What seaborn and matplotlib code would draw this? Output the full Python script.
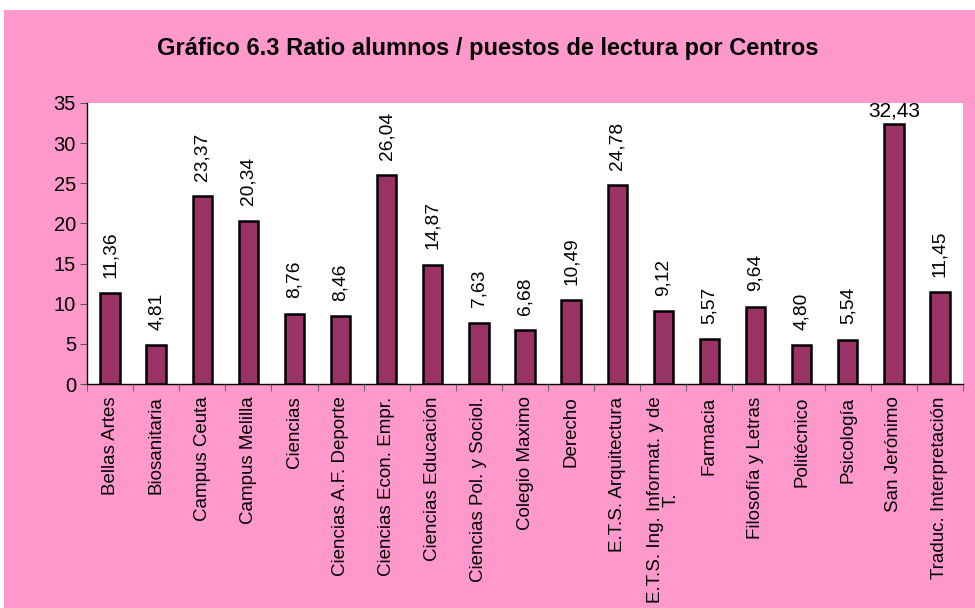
import numpy as np
import pandas as pd
import matplotlib
matplotlib.use('Agg')
import matplotlib.pyplot as plt
from matplotlib.patches import Rectangle
import seaborn as sns

# Data
centros = ['Bellas Artes', 'Biosanitaria', 'Campus Ceuta', 'Campus Melilla', 'Ciencias',
           'Ciencias A.F. Deporte', 'Ciencias Econ. Empr.', 'Ciencias Educación',
           'Ciencias Pol. y Sociol.', 'Colegio Maximo', 'Derecho', 'E.T.S. Arquitectura',
           'E.T.S. Ing. Informat. y de\nT.', 'Farmacia', 'Filosofía y Letras', 'Politécnico',
           'Psicología', 'San Jerónimo', 'Traduc. Interpretación']
ratio = [11.36, 4.81, 23.37, 20.34, 8.76, 8.46, 26.04, 14.87, 7.63, 6.68, 10.49,
         24.78, 9.12, 5.57, 9.64, 4.80, 5.54, 32.43, 11.45]
yticks = [0, 5, 10, 15, 20, 25, 30, 35]

df = pd.DataFrame({'centro': centros, 'ratio': ratio})

sns.set_style('white')
plt.rcParams['font.family'] = ['Liberation Sans', 'DejaVu Sans']
plt.rcParams['text.color'] = 'black'
plt.rcParams['xtick.color'] = 'black'
plt.rcParams['ytick.color'] = 'black'

fig = plt.figure(figsize=(9.75, 6.08), dpi=100, facecolor='white')
# pink chart area (white strip on top and left as in the reference)
fig.patches.append(Rectangle((4 / 975, 0), 1, 598 / 608, transform=fig.transFigure,
                             facecolor='#FF99CC', edgecolor='none', zorder=-5))
ax = fig.add_axes([87 / 975, 1 - 384 / 608, (963 - 87) / 975, (384 - 103) / 608])
ax.set_facecolor('white')

sns.barplot(data=df, x='centro', y='ratio', color='#993366', saturation=1,
            edgecolor='black', linewidth=1.8, width=0.42, ax=ax)

ax.set_ylim(0, 35)
ax.set_xlim(-0.5, len(centros) - 0.5)
ax.set_yticks(yticks)
ax.set_xlabel('')
ax.set_ylabel('')

# value labels, comma decimals
for bar, v in zip(ax.patches, ratio):
    txt = f'{v:.2f}'.replace('.', ',')
    x = bar.get_x() + bar.get_width() / 2
    if v > 30:
        ax.annotate(txt, (x, v), xytext=(0, 2), textcoords='offset points',
                    ha='center', va='bottom', fontsize=15, annotation_clip=False)
    else:
        ax.annotate(txt, (x, v), xytext=(0, 11), textcoords='offset points',
                    ha='center', va='bottom', rotation=90, fontsize=13.8)

# category labels, tick marks between categories
ax.set_xticks(range(len(centros)))
ax.set_xticklabels(centros, rotation=90, fontsize=13.5, ha='center', va='top',
                   multialignment='center', linespacing=0.95)
ax.set_xticks(np.arange(-0.5, len(centros), 1), minor=True)
ax.tick_params(axis='x', which='major', length=0, pad=9)
ax.tick_params(axis='x', which='minor', length=5, color='#555555', direction='out', bottom=True)
ax.tick_params(axis='y', which='major', length=5, color='#555555', direction='out', left=True,
               labelsize=14.5, pad=3)

for s in ['top', 'right']:
    ax.spines[s].set_visible(False)
for s in ['left', 'bottom']:
    ax.spines[s].set_color('black')
    ax.spines[s].set_linewidth(1.0)

fig.text(0.5, 1 - 49 / 608, 'Gráfico 6.3 Ratio alumnos / puestos de lectura por Centros',
         ha='center', va='center', fontsize=17, fontweight='bold')

fig.savefig('out.png', dpi=100, facecolor=fig.get_facecolor())
